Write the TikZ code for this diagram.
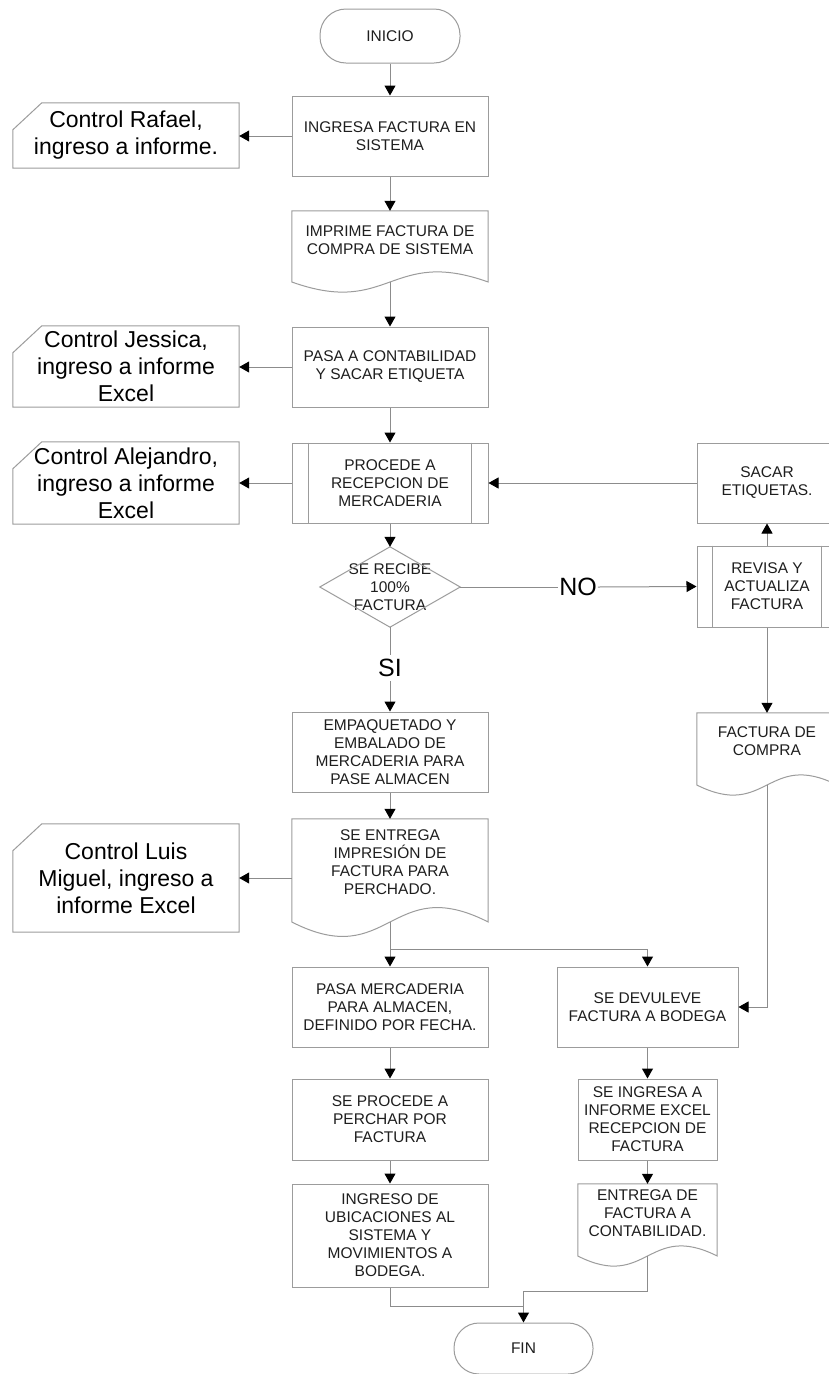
\documentclass[tikz,border=0pt]{standalone}
\usepackage{fontspec}
\setmainfont{Liberation Sans}
\usetikzlibrary{arrows.meta,calc}
\definecolor{lineg}{HTML}{8C8C8C}
\definecolor{boxg}{HTML}{9C9C9C}
\definecolor{txt}{HTML}{1E1E1E}
\begin{document}
\begin{tikzpicture}[x=1pt,y=-1pt,
  boxtext/.style={font=\fontsize{15.5}{18}\selectfont, text=txt, align=center, inner sep=0pt},
  proc/.style={boxtext, draw=boxg, line width=1pt, minimum width=196pt, minimum height=80pt},
  boxline/.style={draw=boxg, line width=1pt},
  term/.style={boxtext, draw=boxg, line width=1pt, rounded corners=26pt, minimum width=140pt, minimum height=54pt},
  notetext/.style={font=\fontsize{23}{27}\selectfont, align=center, inner sep=0pt, text=black, minimum width=226pt},
  conn/.style={draw=lineg, line width=1pt, -{Triangle[length=10pt,width=11pt,color=black]}},
  link/.style={draw=lineg, line width=1pt},
  biglabel/.style={font=\fontsize{25}{28}\selectfont, text=black, inner xsep=1pt, inner ysep=4pt}
]
\useasboundingbox[fill=white] (0,0) rectangle (828,1374);

% main column
\node[term] (inicio) at (390,36) {INICIO};
\node[proc] (ingresa) at (390,136) {INGRESA FACTURA EN\\SISTEMA};
\node[boxtext, minimum width=196pt, minimum height=58pt] (imprime) at (390,240) {IMPRIME FACTURA DE\\COMPRA DE SISTEMA};
\coordinate (imprimeB) at (390,282);
\draw[boxline] (imprime.north west) -- (imprime.north east) -- (imprime.north east |- imprimeB)
  .. controls +(-98,-35) and +(98,35) .. (imprime.north west |- imprimeB) -- cycle;
\node[proc] (pasa) at (390,367) {PASA A CONTABILIDAD\\Y SACAR ETIQUETA};
\node[proc] (procede) at (390,483) {PROCEDE A\\RECEPCION DE\\MERCADERIA};
\draw[boxline] ([xshift=17pt]procede.north west) -- ([xshift=17pt]procede.south west);
\draw[boxline] ([xshift=-17pt]procede.north east) -- ([xshift=-17pt]procede.south east);
\node[boxtext, minimum width=140pt, minimum height=80pt] (dec) at (390,587) {SE RECIBE\\100\%\\FACTURA};
\draw[boxline] (dec.north) -- (dec.east) -- (dec.south) -- (dec.west) -- cycle;
\node[biglabel] (si) at (390,668) {SI};
\node[biglabel, inner ysep=1pt] (no) at (578,587) {NO};
\node[proc] (empaq) at (390,752) {EMPAQUETADO Y\\EMBALADO DE\\MERCADERIA PARA\\PASE ALMACEN};
\node[boxtext, minimum width=196pt, minimum height=86pt] (entrega) at (390,862) {SE ENTREGA\\IMPRESIÓN DE\\FACTURA PARA\\PERCHADO.};
\coordinate (entregaB) at (390,922);
\draw[boxline] (entrega.north west) -- (entrega.north east) -- (entrega.north east |- entregaB)
  .. controls +(-98,-50) and +(98,50) .. (entrega.north west |- entregaB) -- cycle;
\coordinate (split) at (390,949);
\node[proc] (pasam) at (390,1007) {PASA MERCADERIA\\PARA ALMACEN,\\DEFINIDO POR FECHA.};
\node[proc, minimum height=81pt] (perchar) at (390,1119.5) {SE PROCEDE A\\PERCHAR POR\\FACTURA};
\node[proc, minimum height=103pt] (ubic) at (390,1235.5) {INGRESO DE\\UBICACIONES AL\\SISTEMA Y\\MOVIMIENTOS A\\BODEGA.};

% right column
\node[proc, minimum width=140pt] (sacar) at (767,483) {SACAR\\ETIQUETAS.};
\node[proc, minimum width=140pt, minimum height=81pt] (revisa) at (767,586.5) {REVISA Y\\ACTUALIZA\\FACTURA};
\draw[boxline] ([xshift=16pt]revisa.north west) -- ([xshift=16pt]revisa.south west);
\draw[boxline] ([xshift=-16pt]revisa.north east) -- ([xshift=-16pt]revisa.south east);
\node[boxtext, minimum width=140pt, minimum height=57pt] (fcompra) at (767,741.5) {FACTURA DE\\COMPRA};
\coordinate (fcompraB) at (767,785);
\draw[boxline] (fcompra.north west) -- (fcompra.north east) -- (fcompra.north east |- fcompraB)
  .. controls +(-70,-35) and +(70,35) .. (fcompra.north west |- fcompraB) -- cycle;
\node[proc, minimum width=181pt] (devuelve) at (647.5,1007) {SE DEVULEVE\\FACTURA A BODEGA};
\node[proc, minimum width=139pt, minimum height=81pt] (ingexcel) at (647.5,1119.5) {SE INGRESA A\\INFORME EXCEL\\RECEPCION DE\\FACTURA};
\node[boxtext, minimum width=139pt, minimum height=58pt] (entregaf) at (647.5,1213) {ENTREGA DE\\FACTURA A\\CONTABILIDAD.};
\coordinate (entregafB) at (647.5,1256);
\draw[boxline] (entregaf.north west) -- (entregaf.north east) -- (entregaf.north east |- entregafB)
  .. controls +(-69.5,-35) and +(69.5,35) .. (entregaf.north west |- entregafB) -- cycle;
\node[term, minimum width=139pt, minimum height=51pt, rounded corners=25pt] (fin) at (523.5,1348.5) {FIN};
\coordinate (m1) at (523.5,1291);
\coordinate (m2) at (523.5,1306);

% notes
\node[notetext, minimum height=65pt] (rafael) at (126,135.5) {Control Rafael,\\ingreso a informe.};
\node[notetext, minimum height=81pt] (jessica) at (126,366.5) {Control Jessica,\\ingreso a informe\\Excel};
\node[notetext, minimum height=82pt] (alejandro) at (126,483) {Control Alejandro,\\ingreso a informe\\Excel};
\node[notetext, minimum height=108pt] (luis) at (126,878) {Control Luis\\Miguel, ingreso a\\informe Excel};
\foreach \n in {rafael,jessica,alejandro,luis}{
  \draw[boxline] ($(\n.north west)+(29,0)$) -- (\n.north east) -- (\n.south east) -- (\n.south west) -- ($(\n.north west)+(0,27)$) -- cycle;
}

% connectors
\draw[conn] (inicio.south) -- (ingresa.north);
\draw[conn] (ingresa.south) -- (imprime.north);
\draw[conn] (imprimeB) -- (pasa.north);
\draw[conn] (pasa.south) -- (procede.north);
\draw[conn] (procede.south) -- (dec.north);
\draw[link] (dec.south) -- (si.north);
\draw[conn] (si.south) -- (empaq.north);
\draw[link] (dec.east) -- (no.west);
\draw[conn] (no.east) -- (revisa.west);
\draw[conn] (revisa.north) -- (sacar.south);
\draw[conn] (sacar.west) -- (procede.east);
\draw[conn] (revisa.south) -- (fcompra.north);
\draw[conn] (fcompraB) |- (devuelve.east);
\draw[conn] (empaq.south) -- (entrega.north);
\draw[conn] (entregaB) -- (pasam.north);
\draw[conn] (split) -| (devuelve.north);
\draw[conn] (pasam.south) -- (perchar.north);
\draw[conn] (perchar.south) -- (ubic.north);
\draw[conn] (devuelve.south) -- (ingexcel.north);
\draw[conn] (ingexcel.south) -- (entregaf.north);
\draw[link] (ubic.south) |- (m2);
\draw[conn] (entregafB) |- (m1) -- (fin.north);
\draw[conn] (ingresa.west) -- (ingresa.west -| rafael.east);
\draw[conn] (pasa.west) -- (pasa.west -| jessica.east);
\draw[conn] (procede.west) -- (procede.west -| alejandro.east);
\draw[conn] (entrega.west |- luis.east) -- (luis.east);
\end{tikzpicture}
\end{document}
